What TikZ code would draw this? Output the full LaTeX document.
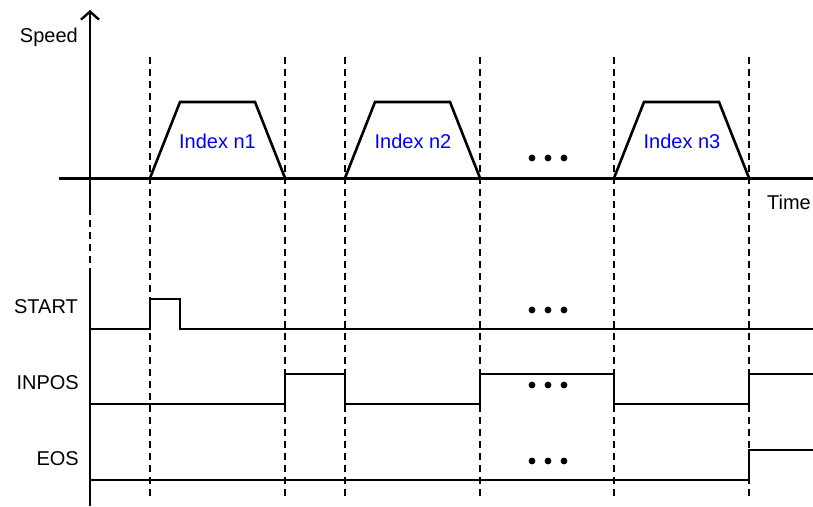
\documentclass[tikz,border=0pt]{standalone}
\usepackage{fontspec}
\setmainfont{Liberation Sans}
\usetikzlibrary{arrows.meta}
\begin{document}
\begin{tikzpicture}[x=1pt,y=-1pt,
  sig/.style={line width=2.6pt,line join=miter},
  guide/.style={line width=1.3pt,dash pattern=on 7pt off 5pt},
  lbl/.style={font=\fontsize{20}{22}\selectfont,inner sep=0pt},
  idx/.style={lbl,text=blue}]
\useasboundingbox (0,0) rectangle (813,506);
% guides
\foreach \gx in {150,285,345,480,614,749}
  \draw[guide] (\gx,57) -- (\gx,497);
\draw[guide] (90,208) -- (90,266);
% axes
\coordinate (ybot) at (90,208);
\coordinate (ytop) at (90,10);
\draw[sig,line width=2.4pt,-{Straight Barb[length=8pt,width=18pt,line width=2.4pt]}] (ybot) -- (ytop);
\coordinate (xl) at (59,178.5);
\coordinate (xr) at (824,178.5);
\draw[sig,line width=2.4pt,-{Straight Barb[length=8pt,width=22pt,line width=2pt]}] (xl) -- (xr);
\draw[sig,line width=2.4pt] (90,268) -- (90,506);
\node[lbl,anchor=east] (speed) at (78,37) {Speed};
\node[lbl] (time) at (789,202) {Time};
% trapezoids
\draw[sig] (150,178) -- (180,102) -- (255,102) -- (285,178);
\draw[sig] (345,178) -- (375,102) -- (450,102) -- (480,178);
\draw[sig] (614,178) -- (644,102) -- (719,102) -- (749,178);
\node[idx] (i1) at (217.5,141) {Index n1};
\node[idx] (i2) at (413,141) {Index n2};
\node[idx] (i3) at (682,141) {Index n3};
% dots
\foreach \dy in {158,310,385,461}
  \foreach \dx in {532,548,564}
    \fill (\dx,\dy) circle (3.4pt);
% signals
\node[lbl,anchor=east] (start) at (78,307) {START};
\node[lbl,anchor=east] (inpos) at (79,383) {INPOS};
\node[lbl,anchor=east] (eos) at (79,459) {EOS};
\draw[sig] (90,329) -- (150,329) -- (150,299) -- (180,299) -- (180,329) -- (813,329);
\draw[sig] (90,404) -- (285,404) -- (285,374) -- (345,374) -- (345,404) -- (480,404) -- (480,374) -- (614,374) -- (614,404) -- (749,404) -- (749,374) -- (813,374);
\draw[sig] (90,480) -- (749,480) -- (749,450) -- (813,450);
\end{tikzpicture}
\end{document}
